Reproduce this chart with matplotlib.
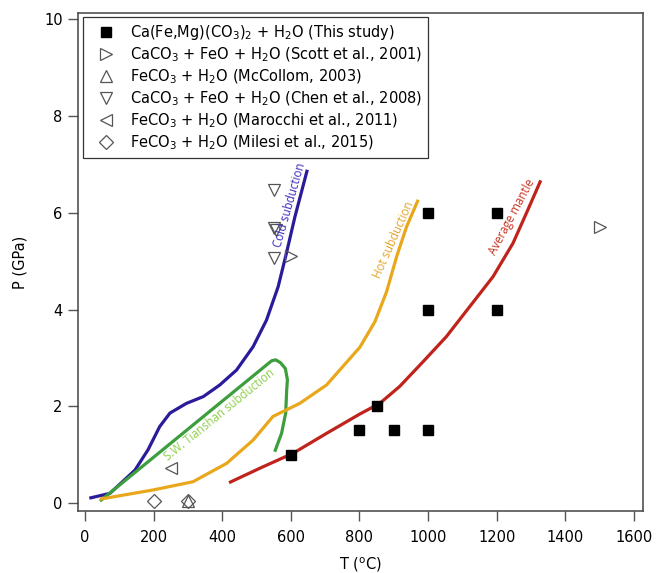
import matplotlib.pyplot as plt
from matplotlib.lines import Line2D

plt.rcParams["font.family"] = "DejaVu Sans"
plt.rcParams["mathtext.default"] = "regular"

# This study: Ca(Fe,Mg)(CO3)2 + H2O
study_T = [600, 800, 850, 900, 1000, 1000, 1000, 1200, 1200]
study_P = [1.0, 1.5, 2.0, 1.5, 1.5, 4.0, 6.0, 4.0, 6.0]

# Literature experiments
scott_T = [600, 1500]
scott_P = [5.1, 5.7]
mccollom_T = [300]
mccollom_P = [0.035]
chen_T = [550, 550, 557, 550]
chen_P = [6.47, 5.68, 5.64, 5.07]
marocchi_T = [250]
marocchi_P = [0.72]
milesi_T = [200, 300]
milesi_P = [0.05, 0.05]

# Geotherms
cold_T = [13, 73, 146, 184, 218, 248, 296, 345, 393, 442, 490, 529, 563, 587, 612, 648]
cold_P = [0.10, 0.20, 0.68, 1.10, 1.58, 1.86, 2.06, 2.20, 2.44, 2.75, 3.23, 3.78, 4.47, 5.16, 5.92, 6.89]

tianshan_T = [44, 544, 556, 570, 584, 590, 588, 585, 573, 553]
tianshan_P = [0.04, 2.94, 2.96, 2.90, 2.78, 2.55, 2.34, 1.86, 1.44, 1.06]

hot_T = [44, 199, 315, 413, 490, 548, 626, 704, 801, 845, 879, 908, 937, 971]
hot_P = [0.08, 0.27, 0.44, 0.82, 1.30, 1.79, 2.06, 2.44, 3.22, 3.75, 4.37, 5.09, 5.71, 6.27]

mantle_T = [420, 510, 607, 704, 801, 859, 917, 985, 1053, 1121, 1189, 1247, 1286, 1328]
mantle_P = [0.42, 0.72, 1.03, 1.44, 1.84, 2.06, 2.41, 2.92, 3.44, 4.06, 4.68, 5.37, 5.99, 6.67]

fig = plt.figure(figsize=(6.58, 5.73), dpi=100)
ax = fig.add_axes([0.1185, 0.1082, 0.8583, 0.8691])

lw = 2.3
ax.plot(cold_T, cold_P, color="#2a1b9b", lw=lw, solid_capstyle="butt", solid_joinstyle="round")
ax.plot(tianshan_T, tianshan_P, color="#3c9e3c", lw=lw, solid_capstyle="butt", solid_joinstyle="round")
ax.plot(hot_T, hot_P, color="#e9a81c", lw=lw, solid_capstyle="butt", solid_joinstyle="round")
ax.plot(mantle_T, mantle_P, color="#c0231b", lw=lw, solid_capstyle="butt", solid_joinstyle="round")

ec = "#555555"
hollow = dict(linestyle="none", mfc="white", mec=ec, mew=0.9)
ax.plot(milesi_T, milesi_P, marker="D", ms=7.5, **hollow)
ax.plot(mccollom_T, mccollom_P, marker="^", ms=9, mfc="none", mec=ec, mew=0.9, linestyle="none")
ax.plot(marocchi_T, marocchi_P, marker="<", ms=9, **hollow)
ax.plot(chen_T, chen_P, marker="v", ms=9, mfc="none", mec=ec, mew=0.9, linestyle="none")
ax.plot(scott_T, scott_P, marker=">", ms=9, mfc="none", mec=ec, mew=0.9, linestyle="none")
ax.plot(study_T, study_P, marker="s", ms=7.2, linestyle="none", color="black")

# Curve annotations
tkw = dict(family="Open Sans", fontsize=8.3, ha="center", va="center", rotation_mode="anchor")
ax.text(597, 6.16, "Cold subduction", color="#3a2bbf", rotation=74, **tkw)
ax.text(393, 1.82, "S.W. Tianshan subduction", color="#8ccf4a", rotation=39, **tkw)
ax.text(900, 5.44, "Hot subduction", color="#e3a52a", rotation=66, **tkw)
ax.text(1244, 5.92, "Average mantle", color="#c9301f", rotation=62, **tkw)

ax.set_xlim(-20, 1625)
ax.set_ylim(-0.165, 10.13)
ax.set_xticks(range(0, 1601, 200))
ax.set_yticks(range(0, 11, 2))
ax.tick_params(direction="out", length=7, width=1, color="#555555", labelsize=10.5, pad=4)
ax.tick_params(axis="x", pad=7)
for sp in ax.spines.values():
    sp.set_color("#444444")
    sp.set_linewidth(1.1)

ax.set_xlabel("T ($^{o}$C)", fontsize=10.5, labelpad=7)
ax.set_ylabel("P (GPa)", fontsize=10.5, labelpad=12)

handles = [
    Line2D([], [], marker="s", ms=7.2, color="black", linestyle="none"),
    Line2D([], [], marker=">", ms=9, mfc="none", mec=ec, mew=0.9, linestyle="none"),
    Line2D([], [], marker="^", ms=9, mfc="none", mec=ec, mew=0.9, linestyle="none"),
    Line2D([], [], marker="v", ms=9, mfc="none", mec=ec, mew=0.9, linestyle="none"),
    Line2D([], [], marker="<", ms=9, mfc="none", mec=ec, mew=0.9, linestyle="none"),
    Line2D([], [], marker="D", ms=7.5, mfc="none", mec=ec, mew=0.9, linestyle="none"),
]
labels = [
    "Ca(Fe,Mg)(CO$_3$)$_2$ + H$_2$O (This study)",
    "CaCO$_3$ + FeO + H$_2$O (Scott et al., 2001)",
    "FeCO$_3$ + H$_2$O (McCollom, 2003)",
    "CaCO$_3$ + FeO + H$_2$O (Chen et al., 2008)",
    "FeCO$_3$ + H$_2$O (Marocchi et al., 2011)",
    "FeCO$_3$ + H$_2$O (Milesi et al., 2015)",
]
leg = ax.legend(handles, labels, loc="upper left", bbox_to_anchor=(0.009, 0.992),
                borderaxespad=0, fancybox=False, framealpha=1, edgecolor="#333333",
                fontsize=10.5, labelspacing=0.25, handlelength=2.3, handletextpad=0.5,
                borderpad=0.4)
leg.get_frame().set_linewidth(0.9)

fig.savefig("out.png", dpi=100)
